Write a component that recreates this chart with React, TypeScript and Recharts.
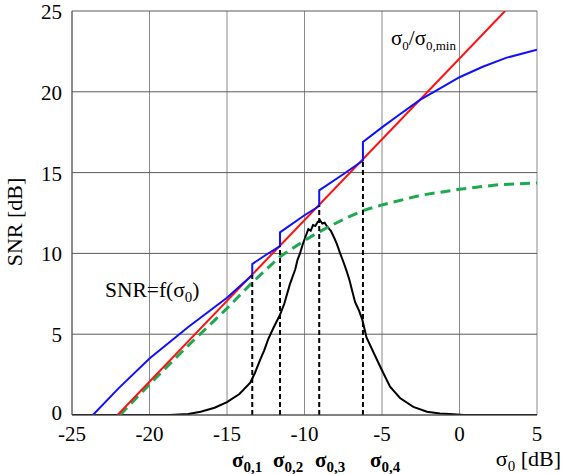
import React from 'react';
import { LineChart, Line, XAxis, YAxis, CartesianGrid, ReferenceLine, ReferenceDot } from 'recharts';

const xTicks = [-25, -20, -15, -10, -5, 0, 5];
const yTicks = [0, 5, 10, 15, 20, 25];

// blue: SNR with switching thresholds
const blueSnr: number[][] = [
  [-23.65, 0], [-22, 1.65], [-20, 3.5], [-17.5, 5.45], [-15, 7.25], [-13.37, 8.66],
  [-13.37, 9.34], [-12.5, 9.9], [-11.58, 10.45], [-11.58, 11.3], [-10, 12.36],
  [-9.05, 12.93], [-9.05, 13.9], [-7.5, 14.9], [-6.23, 15.75], [-6.23, 16.9],
  [-5, 17.8], [-4, 18.5], [-2.55, 19.5], [-1, 20.35], [0, 20.9], [1.5, 21.55],
  [3, 22.1], [5, 22.6],
];

// red: sigma0 / sigma0,min
const redRatio: number[][] = [[-22.06, 0], [2.94, 25]];

// green dashed: SNR = f(sigma0)
const greenSnr: number[][] = [
  [-21.9, 0], [-20, 1.9], [-17.5, 4.3], [-15, 6.6], [-13.37, 8.2], [-11.58, 9.8],
  [-10, 10.8], [-9.05, 11.34], [-7.5, 12.1], [-6.23, 12.65], [-5, 13.0],
  [-2.5, 13.6], [0, 13.97], [2.5, 14.25], [5, 14.36],
];

// black: distribution of sigma0
const blackDist: number[][] = [
  [-25, 0], [-18.7, 0], [-17.5, 0.06], [-16.7, 0.2], [-15.8, 0.45], [-15, 0.8],
  [-14.2, 1.3], [-13.5, 2.0], [-13.2, 2.6], [-12.87, 3.4], [-12.6, 4.0],
  [-12.34, 4.7], [-12.0, 5.4], [-11.58, 6.2], [-11.3, 6.9], [-10.94, 8.1],
  [-10.6, 9.0], [-10.45, 9.6], [-10.29, 10.0], [-10.1, 10.6], [-9.95, 11.0],
  [-9.75, 11.5], [-9.6, 11.4], [-9.45, 11.75], [-9.3, 11.7], [-9.15, 11.95],
  [-9.0, 12.05], [-8.85, 11.85], [-8.7, 11.9], [-8.57, 11.7], [-8.3, 11.4],
  [-8.1, 11.0], [-7.92, 10.6], [-7.7, 10.0], [-7.5, 9.5], [-7.28, 8.9],
  [-7.1, 8.35], [-6.9, 7.6], [-6.74, 7.0], [-6.5, 6.5], [-6.27, 5.9],
  [-6.0, 4.8], [-5.56, 3.9], [-5.02, 2.8], [-4.48, 1.75], [-3.84, 1.05],
  [-2.98, 0.5], [-2.1, 0.2], [-1.26, 0.1], [-0.4, 0.05], [0.3, 0], [5, 0],
];

const sigmaX = [-13.37, -11.58, -9.05, -6.23];
const sigmaTop = [8.66, 10.45, 12.97, 15.83];
const sigmaSubs = ['0,1', '0,2', '0,3', '0,4'];
const sigmaLabelX = [-14.68, -12.03, -9.32, -5.77];

const toXY = (pts: number[][]) => pts.map(([x, y]) => ({ x, y }));

const FONT = "'Liberation Serif', 'Times New Roman', serif";

const sigmaLabel = (sub: string) => (p: any) => (
  <text x={p.cx} y={p.cy + 52} fontFamily={FONT} fontWeight="bold" fontSize={21} fill="#000">
    σ<tspan fontSize={15} dy={5}>{sub}</tspan>
  </text>
);

const ratioLabel = (p: any) => (
  <text x={p.cx} y={p.cy} fontFamily={FONT} fontSize={21} fill="#000">
    σ<tspan fontSize={13} dy={5}>0</tspan>
    <tspan dy={-5}>/σ</tspan>
    <tspan fontSize={13} dy={5}>0,min</tspan>
  </text>
);

const snrLabel = (p: any) => (
  <text x={p.cx} y={p.cy} fontFamily={FONT} fontSize={21.5} fill="#000">
    SNR=f(σ<tspan fontSize={15} dy={5}>0</tspan>
    <tspan dy={-5}>)</tspan>
  </text>
);

const xAxisLabel = (p: any) => (
  <text x={p.cx + 24} y={p.cy + 51} textAnchor="end" fontFamily={FONT} fontSize={22} fill="#000">
    σ<tspan fontSize={15} dy={5}>0</tspan>
    <tspan dy={-5}> [dB]</tspan>
  </text>
);

const yAxisLabel = () => (
  <text x={22} y={222} transform="rotate(-90 22 222)" textAnchor="middle" fontFamily={FONT} fontSize={22} fill="#000">
    SNR [dB]
  </text>
);

const YTick = (p: any) => (
  <text
    x={p.x}
    y={p.payload.value === 0 ? p.y - 2 : p.y + 1}
    dy="0.33em"
    textAnchor="end"
    fontFamily={FONT}
    fontSize={21}
    fill="#000"
  >
    {p.payload.value}
  </text>
);

export default function App() {
  const tickStyle = { fontFamily: FONT, fontSize: 21, fill: '#000' };
  return (
    <div style={{ position: 'absolute', left: 0, top: 0, background: '#fff' }}>
      <LineChart width={564} height={474} margin={{ top: 11, right: 27, bottom: 0, left: 0 }}>
        <CartesianGrid horizontal={false} stroke="#8a8a8a" strokeWidth={1} />
        <CartesianGrid vertical={false} stroke="#5a5a5a" strokeWidth={1} />
        <XAxis
          dataKey="x"
          type="number"
          domain={[-25, 5]}
          ticks={xTicks}
          allowDataOverflow
          height={59}
          tickSize={0}
          tickMargin={11}
          axisLine={{ stroke: '#555' }}
          tick={tickStyle}
        />
        <YAxis
          type="number"
          domain={[0, 25]}
          ticks={yTicks}
          allowDataOverflow
          width={72}
          tickSize={0}
          tickMargin={10}
          axisLine={{ stroke: '#555' }}
          tick={YTick}
          label={yAxisLabel}
        />
        <Line data={toXY(blackDist)} dataKey="y" stroke="#000" strokeWidth={2} dot={false} isAnimationActive={false} />
        <Line data={toXY(greenSnr)} dataKey="y" stroke="#1daa4e" strokeWidth={3} strokeDasharray="10 6" dot={false} isAnimationActive={false} />
        <Line data={toXY(redRatio)} dataKey="y" stroke="#ff1010" strokeWidth={2} dot={false} isAnimationActive={false} />
        <Line data={toXY(blueSnr)} dataKey="y" stroke="#1010ff" strokeWidth={2} dot={false} isAnimationActive={false} />
        {sigmaX.map((sx, i) => (
          <ReferenceLine
            key={'s' + i}
            segment={[{ x: sx, y: 0 }, { x: sx, y: sigmaTop[i] }]}
            stroke="#000"
            strokeWidth={2}
            strokeDasharray="5 3"
          />
        ))}
        {sigmaLabelX.map((lx, i) => (
          <ReferenceDot key={'l' + i} x={lx} y={0} r={0} shape={sigmaLabel(sigmaSubs[i])} ifOverflow="visible" />
        ))}
        <ReferenceDot x={-4.42} y={22.9} r={0} shape={ratioLabel} ifOverflow="visible" />
        <ReferenceDot x={-22.87} y={7.3} r={0} shape={snrLabel} ifOverflow="visible" />
        <ReferenceDot x={5} y={0} r={0} shape={xAxisLabel} ifOverflow="visible" />
      </LineChart>
    </div>
  );
}
